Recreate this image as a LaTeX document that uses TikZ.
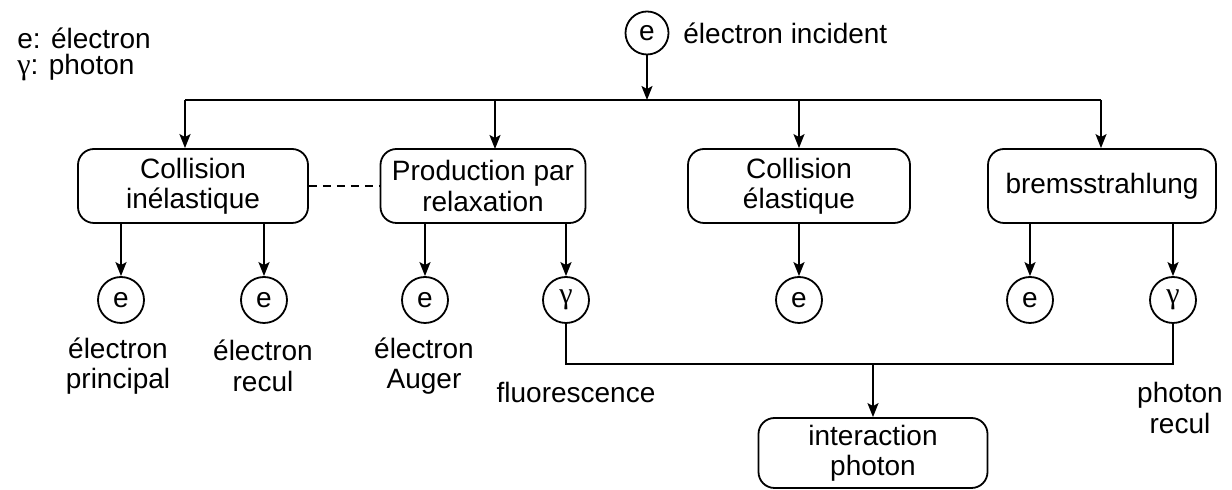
\documentclass[tikz,border=0pt]{standalone}
\usepackage{fontspec}
\setmainfont{Liberation Sans}
\newfontfamily\greekfont{Liberation Serif}
\usetikzlibrary{arrows.meta}
\newcommand{\gam}{{\greekfont\fontsize{15}{15}\selectfont γ}}
\begin{document}
\begin{tikzpicture}[x=0.5pt,y=-0.5pt,
  every node/.style={font=\fontsize{14}{15.2}\selectfont},
  proc/.style={draw,line width=0.9pt,rounded corners=8pt,align=center,
    minimum height=37pt,inner sep=0pt},
  part/.style={draw,circle,line width=0.9pt,minimum size=23pt,inner sep=0pt},
  lbl/.style={align=center,inner sep=0pt},
  conn/.style={line width=0.9pt},
  arr/.style={conn,-{Stealth[length=7pt,width=5.5pt,inset=1.5pt]}}]
\useasboundingbox (0,0) rectangle (1232,490);

% legend
\node[anchor=west,inner sep=0pt] (leg1) at (17,38) {e: électron};
\node[anchor=west,inner sep=0pt] (leg2) at (17,68) {\gam: photon};

% incident electron and distribution bar
\node[part,minimum size=21.5pt] (inc) at (647,33) {e};
\node[anchor=west,inner sep=0pt] (inclbl) at (683,33) {électron incident};
\coordinate (bar) at (647,100);
\coordinate (barL) at (185,100);
\coordinate (barR) at (1101,100);

% interaction processes
\node[proc,minimum width=115pt] (inel) at (193,186) {Collision\\inélastique};
\node[proc,minimum width=102.5pt] (relax) at (483,186) {Production par\\relaxation};
\node[proc,minimum width=111pt] (elas) at (799,186) {Collision\\élastique};
\node[proc,minimum width=114pt] (brem) at (1102,186) {bremsstrahlung};

\draw[arr] (inc) -- (bar);
\draw[conn] (barL) -- (barR);
\draw[arr] (barL) -- (barL |- inel.north);
\draw[arr] (495,100) -- (495,149);
\draw[arr] (bar -| elas) -- (elas);
\draw[arr] (barR) -- (barR |- brem.north);
\draw[conn,dashed,dash pattern=on 4pt off 3pt] (inel) -- (relax);

% secondary particles
\node[part] (e1) at (121,300) {e};
\node[part] (e2) at (264,300) {e};
\node[part] (e3) at (425,300) {e};
\node[part] (g1) at (566,300) {\gam};
\node[part] (e4) at (799,300) {e};
\node[part] (e5) at (1030,300) {e};
\node[part] (g2) at (1173,300) {\gam};

\draw[arr] (e1 |- inel.south) -- (e1);
\draw[arr] (e2 |- inel.south) -- (e2);
\draw[arr] (e3 |- relax.south) -- (e3);
\draw[arr] (g1 |- relax.south) -- (g1);
\draw[arr] (elas) -- (e4);
\draw[arr] (e5 |- brem.south) -- (e5);
\draw[arr] (g2 |- brem.south) -- (g2);

% particle labels
\node[lbl] (l1) at (118,366) {électron\\principal};
\node[lbl] (l2) at (263,366) {électron\\recul};
\node[lbl] (l3) at (424,366) {électron\\Auger};
\node[lbl] (l4) at (576,392) {fluorescence};
\node[lbl] (l5) at (1180,408) {photon\\recul};

% photon collection
\coordinate (pb) at (873,364);
\node[proc,minimum width=114.5pt,minimum height=35pt] (phot) at (873,453) {interaction\\photon};
\draw[conn] (g1) |- (pb) -| (g2);
\draw[arr] (pb) -- (phot);
\end{tikzpicture}
\end{document}
